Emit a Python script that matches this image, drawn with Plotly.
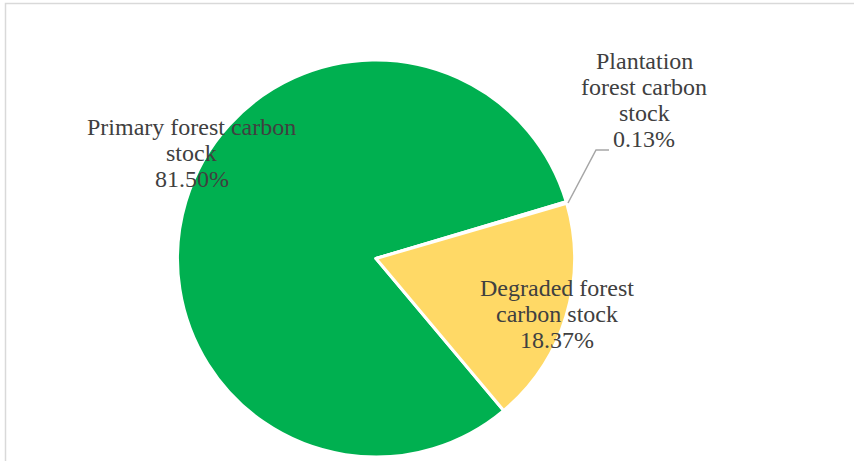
import plotly.graph_objects as go

W, H = 854, 461

# Forest carbon stock shares (%)
categories = ["Primary forest carbon stock",
              "Plantation forest carbon stock",
              "Degraded forest carbon stock"]
shares = [81.50, 0.13, 18.37]
slice_colors = ["#00B050", "#A5A5A5", "#FFD966"]

# Label text split into lines, label centre x and first baseline y (pixels)
label_lines = [["Primary forest carbon", "stock"],
               ["Plantation", "forest carbon", "stock"],
               ["Degraded forest", "carbon stock"]]
label_x = [191.5, 644, 556.5]
label_first_baseline = [135, 69, 296.5]

FONT = "'Liberation Serif', 'Times New Roman', Times, serif"
FONT_SIZE = 24
LINE_STEP = 26


def px(x, y):
    return x / W, 1 - y / H


# Pie geometry in pixels
cx, cy, r = 376, 258.5, 198.5

fig = go.Figure(go.Pie(
    labels=categories,
    values=shares,
    sort=False,
    direction="clockwise",
    rotation=140,
    marker=dict(colors=slice_colors, line=dict(color="white", width=3)),
    textinfo="none",
    hoverinfo="label+percent",
    showlegend=False,
    domain=dict(x=[(cx - r) / W, (cx + r) / W],
                y=[1 - (cy + r) / H, 1 - (cy - r) / H]),
))

# One annotation per text line so the line spacing stays tight
annotations = []
for lines, val, x, b0 in zip(label_lines, shares, label_x, label_first_baseline):
    for i, line in enumerate(lines + [f"{val:.2f}%"]):
        ax, ay = px(x, b0 + i * LINE_STEP - 0.34 * FONT_SIZE)
        annotations.append(dict(
            x=ax, y=ay, xref="paper", yref="paper",
            text=line, showarrow=False,
            xanchor="center", yanchor="middle", align="center",
            font=dict(family=FONT, size=FONT_SIZE, color="#404040"),
        ))

# Leader line for the small plantation slice
x0, y0 = px(568, 203)
x1, y1 = px(596, 150)
x2, y2 = px(609, 150)
shapes = [
    dict(type="path", xref="paper", yref="paper",
         path=f"M {x0} {y0} L {x1} {y1} L {x2} {y2}",
         line=dict(color="#A6A6A6", width=1.5)),
    # Chart-area border
    dict(type="rect", xref="paper", yref="paper",
         x0=5.5 / W, y0=-0.05, x1=1.05, y1=1 - 3.5 / H,
         line=dict(color="#D9D9D9", width=1.5)),
]

fig.update_layout(
    width=W, height=H,
    margin=dict(l=0, r=0, t=0, b=0),
    paper_bgcolor="white",
    plot_bgcolor="white",
    font=dict(family=FONT),
    annotations=annotations,
    shapes=shapes,
)

fig.write_html("out.html")
